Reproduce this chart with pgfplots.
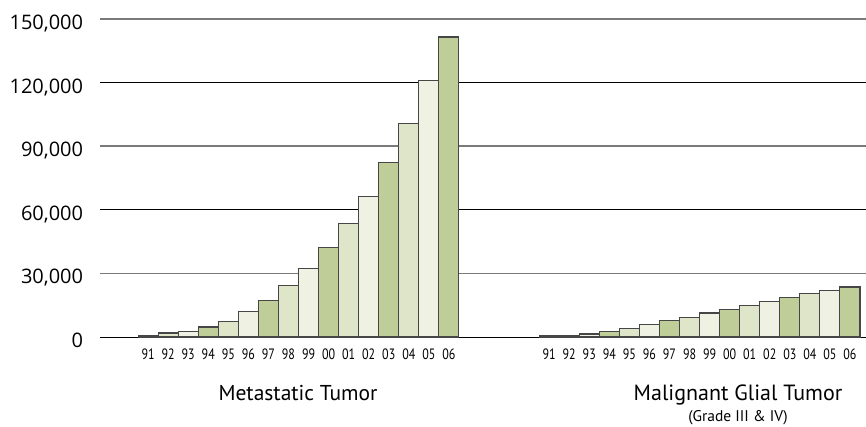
\documentclass[border=0pt]{standalone}
\usepackage{pgfplots}
\pgfplotsset{compat=1.18}
\usepackage{fontspec}
\setmainfont{PT Sans}
\newfontfamily\ylabfont{Open Sans}
\newfontfamily\condfont[FakeStretch=0.8]{PT Sans}
\definecolor{gdark}{HTML}{BFCE98}
\definecolor{gmid}{HTML}{DFE5C9}
\definecolor{glight}{HTML}{EFF1E2}
\definecolor{edgec}{HTML}{464646}
\definecolor{gridgray}{HTML}{7A7A7A}
\begin{document}
\begin{tikzpicture}
\path[use as bounding box] (0pt,0pt) rectangle (866pt,426pt);
\begin{axis}[
  at={(100pt,89pt)}, anchor=south west,
  scale only axis, width=766pt, height=318pt,
  xmin=-2.4, xmax=35.8, ymin=0, ymax=150000,
  axis line style={draw=none},
  tick style={draw=none},
  xtick={0,1,2,3,4,5,6,7,8,9,10,11,12,13,14,15,20,21,22,23,24,25,26,27,28,29,30,31,32,33,34,35},
  xticklabels={91,92,93,94,95,96,97,98,99,00,01,02,03,04,05,06,91,92,93,94,95,96,97,98,99,00,01,02,03,04,05,06},
  xticklabel style={font=\condfont\fontsize{15}{15}\selectfont, inner sep=0pt, anchor=base, yshift=-22.3pt},
  ytick={30000,90000,150000},
  yticklabels={{30,000},{90,000},{150,000}},
  extra y ticks={0,60000,120000},
  extra y tick labels={{0},{60,000},{120,000}},
  extra y tick style={grid=major, major grid style={black, line width=0.9pt}},
  ymajorgrids,
  major grid style={gridgray, line width=1.5pt},
  scaled y ticks=false,
  yticklabel style={font=\ylabfont\fontsize{20}{20}\selectfont, inner sep=0pt, anchor=base east, xshift=-16.7pt, yshift=-10.5pt},
  clip=false,
]
% dark bars
\addplot[ybar, bar width=1, bar shift=0pt, fill=gdark, draw=edgec, line width=1.1pt] coordinates {
 (0,900) (3,4700) (6,17300) (9,42300) (12,82400) (15,141500)
 (20,500) (23,2600) (26,7800) (29,13000) (32,18700) (35,23600)
};
% mid bars
\addplot[ybar, bar width=1, bar shift=0pt, fill=gmid, draw=edgec, line width=1.1pt] coordinates {
 (1,1900) (4,7500) (7,24200) (10,53600) (13,100900)
 (21,900) (24,4100) (27,9400) (30,14800) (33,20700)
};
% light bars
\addplot[ybar, bar width=1, bar shift=0pt, fill=glight, draw=edgec, line width=1.1pt] coordinates {
 (2,2700) (5,11900) (8,32400) (11,66400) (14,120800)
 (22,1400) (25,6000) (28,11300) (31,16800) (34,22000)
};
\end{axis}
\node[anchor=base, inner sep=0pt, font=\fontsize{21.5}{21.5}\selectfont] at (298pt,26pt) {Metastatic Tumor};
\node[anchor=base, inner sep=0pt, font=\fontsize{22}{22}\selectfont] at (738pt,26pt) {Malignant Glial Tumor};
\node[anchor=base, inner sep=0pt, font=\fontsize{15.5}{15.5}\selectfont] at (738pt,5pt) {(Grade III \& IV)};
\end{tikzpicture}
\end{document}
